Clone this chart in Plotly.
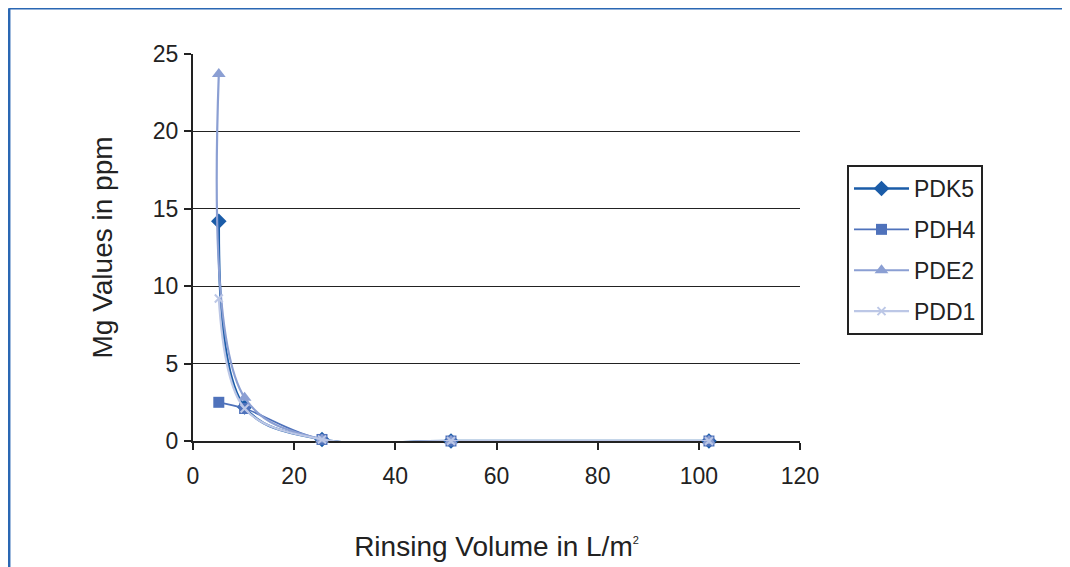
import plotly.graph_objects as go

x_vals = [5.1, 10.2, 25.5, 51, 102]
series_names = ["PDK5", "PDH4", "PDE2", "PDD1"]
pdk5 = [14.2, 2.2, 0.1, 0.0, 0.0]
pdh4 = [2.5, 2.1, 0.1, 0.0, 0.0]
pde2 = [23.7, 2.8, 0.1, 0.0, 0.0]
pdd1 = [9.2, 2.1, 0.1, 0.0, 0.0]
x_ticks = [0, 20, 40, 60, 80, 100, 120]
y_ticks = [0, 5, 10, 15, 20, 25]

values = [pdk5, pdh4, pde2, pdd1]
colors = ["#1b5ca8", "#4f72bb", "#8b9fd3", "#bcc7e6"]
symbols = ["diamond", "square", "triangle-up", "x-thin"]
msizes = [12, 11, 12, 8]
lwidths = [2.5, 1.8, 2.2, 2.2]

fig = go.Figure()
for name, ys, c, s, ms, lw in zip(series_names, values, colors, symbols, msizes, lwidths):
    fig.add_trace(go.Scatter(
        x=x_vals, y=ys, name=name, mode="lines+markers",
        line=dict(color=c, width=lw, shape="spline", smoothing=1.0),
        marker=dict(symbol=s, size=ms, color=c, line=dict(color=c, width=2 if s == "x-thin" else 0)),
        legendgroup=name, cliponaxis=False,
    ))

# page offset (browser body margin)
OFF = 8
L, R, T, B = 193 - OFF, 800 - OFF, 54 - OFF, 441 - OFF
W, H = R - L, B - T

def px(xp):
    return (xp - OFF - L) / W

def py(yp):
    return (B - (yp - OFF)) / H

fig.update_layout(
    width=1070, height=567,
    margin=dict(l=L, r=1070 - R, t=T, b=567 - B),
    paper_bgcolor="white", plot_bgcolor="white",
    font=dict(family="Liberation Sans, Arial, sans-serif", size=23, color="#222222"),
    showlegend=True,
    legend=dict(
        x=px(847), y=py(165), xanchor="left", yanchor="top",
        bordercolor="#222222", borderwidth=2, bgcolor="white",
        font=dict(size=23), traceorder="grouped", tracegroupgap=8,
        itemwidth=55,
    ),
    xaxis=dict(
        range=[0, 120], tickvals=x_ticks, showgrid=False, zeroline=False,
        showline=True, linecolor="#222222", linewidth=2, layer="below traces",
        ticks="outside", ticklen=7, tickwidth=2, tickcolor="#222222",
        ticklabelstandoff=6,
        title=dict(text="Rinsing Volume in L/m<sup><span style='font-size:11px'>2</span></sup>", standoff=49),
    ),
    yaxis=dict(
        range=[0, 25], tickvals=y_ticks, showgrid=True, gridcolor="#222222", gridwidth=1,
        zeroline=False, showline=True, linecolor="#222222", linewidth=2, layer="below traces",
        ticks="outside", ticklen=7, tickwidth=2, tickcolor="#222222",
        ticklabelstandoff=1,
        title=dict(text="Mg Values in ppm", standoff=32),
    ),
    shapes=[
        dict(type="line", xref="paper", yref="paper", x0=px(9.2), x1=px(1090), y0=py(8.2), y1=py(8.2),
             line=dict(color="#2a67b3", width=2.5)),
        dict(type="line", xref="paper", yref="paper", x0=px(9.2), x1=px(9.2), y0=py(8.2), y1=py(590),
             line=dict(color="#2a67b3", width=2.5)),
    ],
)

fig.write_html("out.html")
